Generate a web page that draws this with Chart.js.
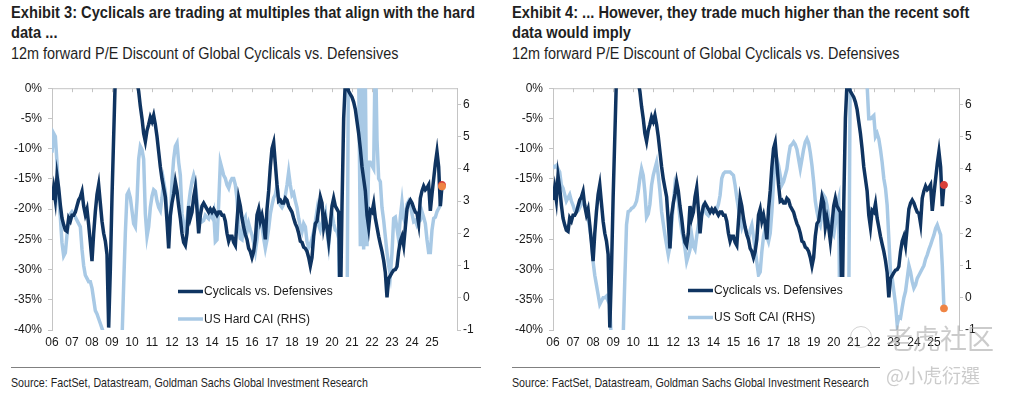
<!DOCTYPE html>
<html>
<head>
<meta charset="utf-8">
<script src="https://cdn.jsdelivr.net/npm/chart.js@4.4.1/dist/chart.umd.min.js"></script>
<style>
  body { margin: 0; width: 1010px; height: 397px; background: #fff; position: relative; overflow: hidden;
         font-family: "Liberation Sans", Arial, sans-serif; color: #1f1f1f; }
  .title, .sub, .src { position: absolute; white-space: nowrap; transform-origin: 0 0; }
  .title { top: 3px; font-weight: bold; font-size: 17px; line-height: 20px; transform: scaleX(0.863); }
  .sub { top: 44px; font-size: 16px; line-height: 20px; transform: scaleX(0.9); }
  .src { top: 375px; font-size: 13.5px; line-height: 16px; transform: scaleX(0.79); }
  .box { position: absolute; top: 75px; width: 505px; height: 285px; }
  .rule { position: absolute; top: 367px; height: 1px; background: #808080; }
  .wm { position: absolute; color: rgba(160,160,160,0.55); font-family: "Noto Sans CJK TC", "Noto Sans CJK SC", sans-serif; white-space: nowrap; }
  .logo { position: absolute; left: 850px; top: 326px; width: 20px; height: 20px; border: 1.5px solid rgba(170,170,170,0.5); border-radius: 50%; }
</style>
</head>
<body>
<div class="title" style="left:11px">Exhibit 3: Cyclicals are trading at multiples that align with the hard<br>data ...</div>
<div class="sub" style="left:11px">12m forward P/E Discount of Global Cyclicals vs. Defensives</div>
<div class="box" style="left:0"><canvas id="left"></canvas></div>
<div class="rule" style="left:11px; width:470px"></div>
<div class="src" style="left:11px">Source: FactSet, Datastream, Goldman Sachs Global Investment Research</div>

<div class="title" style="left:512px">Exhibit 4: ... However, they trade much higher than the recent soft<br>data would imply</div>
<div class="sub" style="left:512px">12m forward P/E Discount of Global Cyclicals vs. Defensives</div>
<div class="box" style="left:505px"><canvas id="right"></canvas></div>
<div class="rule" style="left:512px; width:368px"></div>
<div class="src" style="left:512px">Source: FactSet, Datastream, Goldman Sachs Global Investment Research</div>

<div class="logo"></div>
<div class="wm" style="left:886px; top:318px; font-size:27px">老虎社区</div>
<div class="wm" style="left:886px; top:361px; font-size:19px">@小虎衍選</div>

<script>
// monthly readings, Jan 2006 .. Jul 2025
const START_YEAR = 2006;
const yearTicks = [2006, 2007, 2008, 2009, 2010, 2011, 2012, 2013, 2014, 2015,
                   2016, 2017, 2018, 2019, 2020, 2021, 2022, 2023, 2024, 2025];

// 12m fwd P/E discount, cyclicals vs defensives (%)
const cyclicals = [
  -18.5, -16.5, -18.5, -14.5, -16.5, -19.3, -21.5, -22.6, -23.5, -23.7, -21.5, -22,
  -21, -21, -20.5, -19.5, -18.5, -18, -17.1, -19.5, -20.9, -20, -22.6, -25.5,
  -28.6, -24, -20.4, -17.6, -16, -19, -22, -24, -25.3, -27.5, -39.6, -30,
  -18, -8, 2, 5, 8, 10, 12, 13, 12, 11, 9, 8,
  6, 4, 2, 1, -0.5, -3, -5, -7.5, -8.8, -7, -6, -4.8,
  -5.5, -4.5, -6, -8, -10.5, -13, -15, -16.5, -18, -22, -26.5, -21,
  -19, -17.5, -15.5, -17, -19.5, -21.5, -24, -25.5, -26, -24, -19.5, -21.5,
  -20.5, -18, -16.5, -20, -24, -21, -19.5, -19, -19.5, -20, -20.5, -20,
  -20.5, -20, -20.5, -21, -20.5, -20.5, -21, -21, -22, -24, -25.3, -24.5,
  -24.5, -25.5, -26, -22, -18.2, -19.5, -21.5, -23, -24.2, -25, -26.5, -27,
  -28, -27, -25, -21, -20, -22, -21, -22.5, -25, -20, -17, -13,
  -10, -9, -12.5, -16, -18.7, -18.5, -19, -19, -18.2, -18.5, -19.5, -20,
  -20.5, -21.5, -22.4, -23, -24, -25.3, -25.5, -26.3, -26.5, -27, -28, -29.4,
  -28, -24.5, -22.4, -22, -20, -18, -19, -23, -21.5, -23, -25.3, -22.5,
  -19.5, -18.2, -19.5, -20, -20.5, -38, -19.5, -5, 1, 0.5, -0.5, -1,
  -1.5, -2.3, -3.5, -5.5, -7.5, -10, -13, -15, -17, -21, -23, -20.2,
  -20.5, -19.1, -21.5, -23, -24.5, -25.8, -27, -28.5, -30.5, -34.6, -31.5, -31,
  -30.5, -30.1, -30, -29.5, -27, -25.3, -24.5, -26, -23, -20, -19, -18.5,
  -19, -19.8, -20.5, -20.7, -22.4, -18.2, -17, -16.2, -16.8, -16.5, -16, -20.3,
  -17.5, -15, -12.5, -10.5, -13, -19.5, -16
];

// US Hard CAI (RHS)
const hardCai = [
  4.5, 5.1, 5.0, 4.2, 3.1, 2.5, 1.7, 1.3, 1.4, 1.95, 2.4, 2.6,
  2.67, 2.6, 2.5, 2.4, 2.3, 2.2, 1.5, 1.0, 0.7, 0.6, 0.5, 0.5,
  0.3, -0.05, -0.4, -0.5, -0.65, -0.8, -0.95, -1.1, -1.6, -2.2, -2.8, -3.3,
  -3.6, -3.8, -3.6, -3.2, -2.6, -2.0, -1.3, 0.4, 2.0, 3.2, 3.3, 3.1,
  2.7, 2.3, 2.2, 3.0, 4.3, 4.7, 4.6, 4.3, 2.6, 1.9, 2.2, 2.8,
  3.15, 3.35, 3.3, 3.0, 2.8, 2.7, 3.1, 3.6, 3.3, 2.6, 2.1, 2.4,
  3.6, 4.3, 4.7, 4.8, 4.2, 3.8, 2.6, 2.3, 2.1, 2.4, 2.9, 3.3,
  3.6, 3.8, 3.6, 3.0, 2.6, 2.45, 2.36, 2.4, 2.56, 2.5, 2.45, 2.6,
  2.5, 2.67, 1.74, 1.8, 2.9, 4.2, 4.0, 3.8, 3.7, 3.5, 3.4, 3.6,
  3.7, 3.7, 3.5, 3.08, 2.26, 1.84, 1.8, 2.4, 2.5, 2.05, 2.3, 2.1,
  1.95, 1.7, 1.43, 1.8, 2.26, 2.5, 2.2, 1.84, 1.53, 1.8, 2.15, 2.6,
  2.87, 3.1, 3.2, 3.49, 3.1, 2.87, 2.8, 2.9, 3.18, 3.5, 3.9, 3.5,
  3.18, 3.25, 3.0, 2.8, 2.46, 2.2, 2.05, 2.3, 2.2, 1.74, 1.55, 1.65,
  1.84, 2.05, 2.36, 2.7, 2.26, 2.1, 2.3, 2.5, 2.67, 2.05, 1.64, 2.2,
  2.6, 2.3, 2.1, 2.05, 1.84, -4, -5, -3, -1.5, -1.2, 9, 10,
  11, 10, 9, 8, 7, 1.6, 7, 1.5, 6.8, 1.6, 4.2, 4.2,
  4.1, 4.0, 8, 4.9, 3.7, 3.6, 2.8, 2.4, 1.9, 1.4, 1.0, 0.7,
  1.4, 2.46, 2.5, 2.15, 1.8, 2.5, 2.97, 2.46, 2.3, 2.9, 3.0, 2.9,
  2.6, 2.36, 2.4, 2.25, 2.36, 2.4, 2.67, 2.5, 2.3, 1.8, 1.4, 1.4,
  2.1, 2.46, 2.5, 2.67, 2.77, 2.87, 3.45
];

// US Soft CAI (RHS)
const softCai = [
  4.1, 4.05, 4.1, 4.0, 3.9, 3.5, 3.4, 3.2, 3.0, 3.1, 3.2, 3.0,
  2.87, 2.7, 2.67, 2.7, 2.8, 2.9, 3.0, 2.9, 2.7, 2.5, 2.15, 1.8,
  1.12, 0.7, 0.4, 0.1, -0.2, -0.1, 0.0, 0.0, 0.05, -0.1, -0.2, -1.5,
  -2.5, -3, -3, -2.5, -2, -1.5, -1.2, 0.6, 2.26, 2.67, 2.7, 2.77,
  2.8, 2.87, 3.0, 3.3, 3.7, 4.0, 3.8, 3.28, 2.5, 2.6, 2.9, 3.49,
  3.8, 4.0, 4.2, 3.8, 3.3, 2.67, 2.3, 1.95, 1.64, 1.33, 1.6, 2.26,
  2.9, 3.49, 3.3, 3.0, 2.46, 2.1, 1.84, 1.53, 1.12, 1.3, 1.5, 1.95,
  1.6, 1.5, 1.9, 2.26, 2.45, 2.56, 2.8, 2.7, 2.6, 2.55, 2.67, 2.67,
  2.67, 2.7, 2.75, 2.9, 3.18, 3.7, 3.85, 3.9, 3.9, 3.9, 3.9, 3.85,
  3.8, 3.49, 3.1, 2.77, 2.46, 2.2, 2.4, 2.15, 1.95, 1.8, 2.1, 2.26,
  1.9, 1.5, 1.1, 0.71, 0.8, 1.43, 1.9, 2.15, 1.9, 1.74, 2.0, 2.67,
  3.6, 4.2, 4.3, 4.1, 3.8, 3.5, 3.6, 3.8, 4.0, 4.4, 4.7, 4.75,
  4.83, 4.75, 4.6, 4.3, 4.0, 4.3, 4.6, 4.83, 4.93, 4.8, 4.5, 4.1,
  3.6, 3.0, 2.67, 2.4, 2.26, 2.6, 3.18, 3.1, 2.87, 2.5, 2.05, 2.05,
  1.95, 2.3, 2.87, 3.08, -3, -4, -3, -2, -1, -0.5, 8, 9,
  10, 10, 9, 9, 8, 7.5, 7, 7, 6.6, 5.55, 5.55, 5.6,
  5.65, 5.0, 5.1, 4.93, 4.6, 4.2, 3.7, 3.4, 2.87, 1.84, 0.81, 0.6,
  0.2, -0.2, -0.83, -0.6, -0.63, -0.3, 0.0, 0.2, 0.6, 1.0, 0.8, 0.5,
  0.3, 0.4, 0.6, 0.7, 0.8, 0.9, 1.0, 1.2, 1.33, 1.5, 1.64, 1.8,
  1.95, 2.15, 2.26, 2.1, 1.95, 1.0, -0.33
];

const NAVY = '#0f3461';
const LIGHT = '#a8c9e5';
const RED = '#d8413b';
const ORANGE = '#ef8444';
const axisGrey = '#c4c4c4';

Chart.defaults.font.family = '"Liberation Sans", Arial, sans-serif';
Chart.defaults.font.size = 12;
Chart.defaults.color = '#1a1a1a';

const toPoints = vals => vals.map((v, i) => ({ x: START_YEAR + i / 12, y: v }));
const lastPoint = vals => [{ x: START_YEAR + (vals.length - 1) / 12, y: vals[vals.length - 1] }];

// top axis line with year ticks pointing into the plot
const frame = {
  id: 'frame',
  beforeDatasetsDraw(chart) {
    const { ctx, chartArea: a, scales: { x } } = chart;
    ctx.save();
    ctx.strokeStyle = axisGrey;
    ctx.lineWidth = 1;
    ctx.beginPath();
    ctx.moveTo(a.left, a.top + 0.5);
    ctx.lineTo(a.right, a.top + 0.5);
    yearTicks.forEach(t => {
      const px = Math.round(x.getPixelForValue(t)) + 0.5;
      ctx.moveTo(px, a.top);
      ctx.lineTo(px, a.top + 4);
    });
    ctx.stroke();
    ctx.restore();
  }
};

// legend drawn inside the plot on a white box
const insideLegend = {
  id: 'insideLegend',
  afterDatasetsDraw(chart, args, opts) {
    const { ctx } = chart;
    ctx.save();
    ctx.fillStyle = '#fff';
    ctx.fillRect(opts.box[0], opts.box[1], opts.box[2], opts.box[3]);
    ctx.font = '12px "Liberation Sans", Arial, sans-serif';
    ctx.textBaseline = 'middle';
    chart.data.datasets.filter(d => d.inLegend).forEach((d, i) => {
      const y = opts.y + i * opts.gap;
      ctx.strokeStyle = d.borderColor;
      ctx.lineWidth = 3.5;
      ctx.beginPath();
      ctx.moveTo(opts.x, y);
      ctx.lineTo(opts.x + 25, y);
      ctx.stroke();
      ctx.fillStyle = '#1a1a1a';
      ctx.fillText(d.label, opts.x + 26, y + 0.5);
    });
    ctx.restore();
  }
};

function makeChart(id, caiVals, caiLabel, yW, y2W, legend) {
  const dot = (vals, color, axis) => ({
    data: lastPoint(vals), yAxisID: axis, showLine: false,
    pointRadius: 3.5, pointBackgroundColor: color, pointBorderColor: color, borderColor: color
  });
  new Chart(document.getElementById(id), {
    type: 'line',
    data: {
      datasets: [
        dot(caiVals, ORANGE, 'y2'),
        dot(cyclicals, RED, 'y'),
        { label: 'Cyclicals vs. Defensives', inLegend: true, data: toPoints(cyclicals), yAxisID: 'y',
          borderColor: NAVY, borderWidth: 3.5, pointRadius: 0, tension: 0, clip: 0 },
        { label: caiLabel, inLegend: true, data: toPoints(caiVals), yAxisID: 'y2',
          borderColor: LIGHT, borderWidth: 3.5, pointRadius: 0, tension: 0, clip: 0 }
      ]
    },
    options: {
      responsive: true,
      maintainAspectRatio: false,
      animation: false,
      layout: { padding: { top: 2, left: 0, right: 0, bottom: 0 } },
      plugins: {
        legend: { display: false },
        tooltip: { enabled: false },
        insideLegend: legend
      },
      scales: {
        x: {
          type: 'linear', min: 2006, max: 2026.25,
          afterBuildTicks: s => { s.ticks = yearTicks.map(v => ({ value: v })); },
          afterFit: s => { s.height = 30; },
          grid: { display: false, drawTicks: false },
          border: { display: false },
          ticks: { padding: 5, maxRotation: 0, autoSkip: false, callback: v => String(v).slice(2) }
        },
        y: {
          position: 'left', min: -40, max: 0,
          afterFit: s => { s.width = yW; },
          ticks: { stepSize: 5, padding: 6, callback: v => v + '%' },
          grid: { drawOnChartArea: false, color: axisGrey, tickLength: 4 },
          border: { color: axisGrey }
        },
        y2: {
          position: 'right', min: -1, max: 6.5,
          afterBuildTicks: s => { s.ticks = s.ticks.filter(t => Number.isInteger(t.value)); },
          afterFit: s => { s.width = y2W; },
          ticks: { stepSize: 1, padding: 2 },
          grid: { drawOnChartArea: false, color: axisGrey, tickLength: 4 },
          border: { color: axisGrey }
        }
      }
    },
    plugins: [frame, insideLegend]
  });
}

makeChart('left', hardCai, 'US Hard CAI (RHS)', 52, 48,
  { box: [172, 202, 180, 53], x: 178, y: 216.5, gap: 27.5 });
makeChart('right', softCai, 'US Soft CAI (RHS)', 48, 51,
  { box: [178, 202, 173, 53], x: 183, y: 215.5, gap: 27 });
</script>
</body>
</html>
